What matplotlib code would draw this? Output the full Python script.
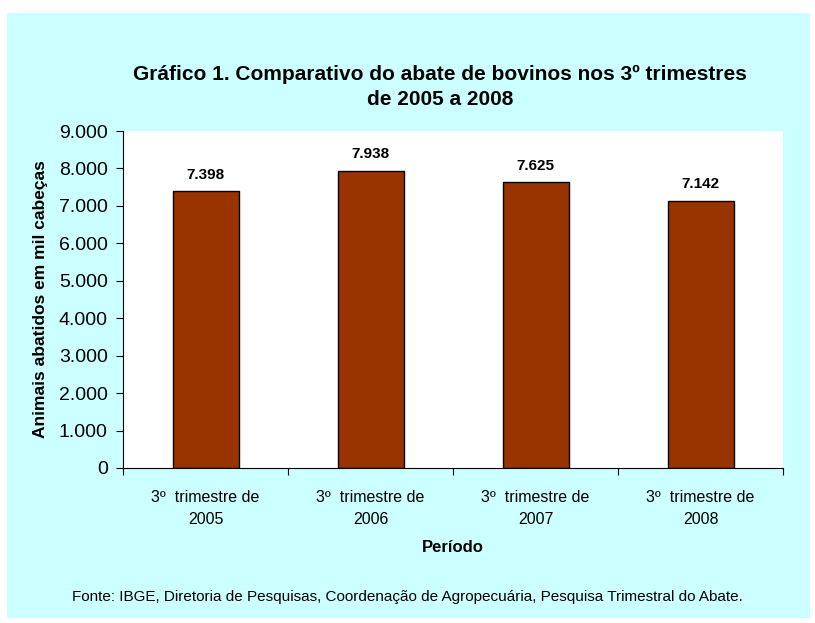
import matplotlib.pyplot as plt
from matplotlib.patches import Rectangle
from matplotlib.ticker import FuncFormatter

periodos = ["3º  trimestre de\n2005", "3º  trimestre de\n2006",
            "3º  trimestre de\n2007", "3º  trimestre de\n2008"]
abates = [7398, 7938, 7625, 7142]

plt.rcParams['font.family'] = ['Liberation Sans', 'DejaVu Sans']

fig = plt.figure(figsize=(8.15, 6.23), dpi=100, facecolor="white")
# fundo ciano do quadro
fig.patches.append(Rectangle((7 / 815, 1 - 618 / 623), 803 / 815, 605 / 623,
                             transform=fig.transFigure, facecolor="#CCFFFF",
                             edgecolor="none", zorder=-1))

ax = fig.add_axes([123 / 815, 1 - 468 / 623, 660 / 815, 337 / 623])
ax.set_facecolor("white")

x = range(len(abates))
ax.bar(x, abates, width=0.4, color="#993300", edgecolor="black", linewidth=1)

for i, v in enumerate(abates):
    ax.text(i, v + 250, f"{v:,}".replace(",", "."), ha="center", va="bottom",
            fontsize=11, fontweight="bold")

ax.set_xlim(-0.5, 3.5)
ax.set_ylim(0, 9000)
ax.set_yticks(range(0, 9001, 1000))
ax.yaxis.set_major_formatter(FuncFormatter(lambda v, p: f"{int(v):,}".replace(",", ".")))
ax.tick_params(axis="y", labelsize=14, length=5, direction="out", pad=6)

# marcas entre as categorias, rótulos no centro
ax.set_xticks([-0.5, 0.5, 1.5, 2.5, 3.5])
ax.set_xticklabels([])
ax.tick_params(axis="x", which="major", length=5, direction="out")
ax.set_xticks(list(x), minor=True)
ax.set_xticklabels(periodos, minor=True, fontsize=11.5, linespacing=1.6)
ax.tick_params(axis="x", which="minor", length=0, pad=16)

for s in ["top", "right"]:
    ax.spines[s].set_visible(False)

ax.set_ylabel("Animais abatidos em mil cabeças", fontsize=12.5, fontweight="bold", labelpad=8)
ax.set_xlabel("Período", fontsize=12, fontweight="bold", labelpad=9)

fig.text(440 / 815, 1 - 87 / 623,
         "Gráfico 1. Comparativo do abate de bovinos nos 3º trimestres\nde 2005 a 2008",
         ha="center", va="center", fontsize=15, fontweight="bold", linespacing=1.35)
fig.text(407 / 815, 1 - 597 / 623,
         "Fonte: IBGE, Diretoria de Pesquisas, Coordenação de Agropecuária, Pesquisa Trimestral do Abate.",
         ha="center", va="center", fontsize=11)

fig.savefig("out.png", dpi=100, facecolor="white")
